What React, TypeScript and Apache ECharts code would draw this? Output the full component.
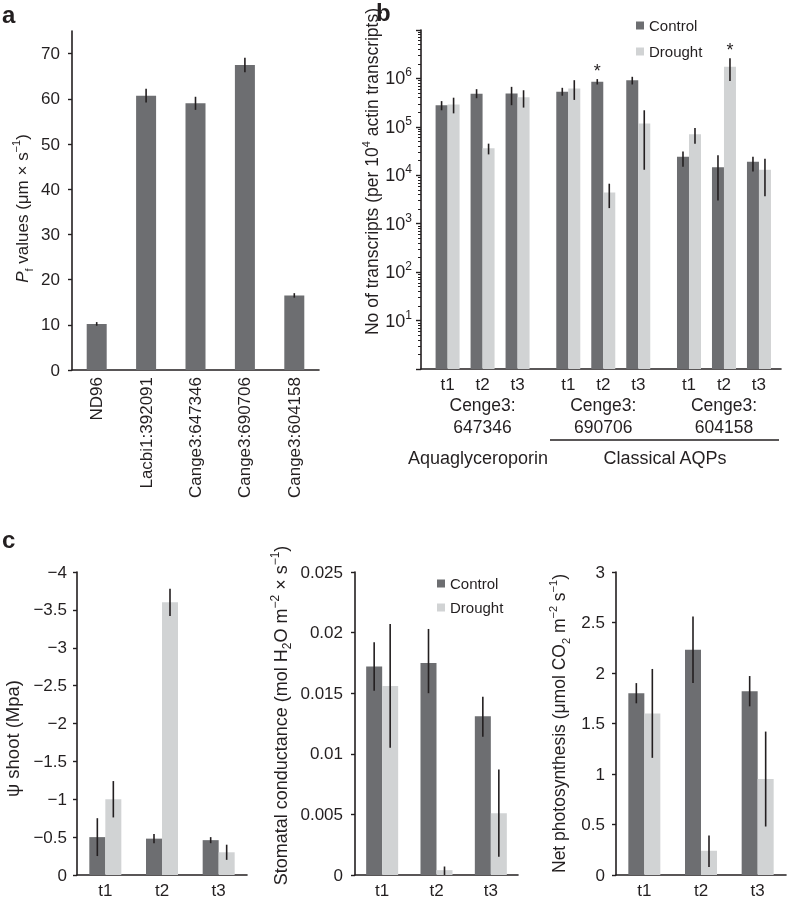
import React, { useEffect, useRef } from 'react';
import * as echarts from 'echarts';

// ---------- Panel a ----------
const aCats = ['ND96', 'Lacbi1:392091', 'Cange3:647346', 'Cange3:690706', 'Cange3:604158'];
const aValues = [10.2, 60.7, 59.0, 67.5, 16.5];
const aErrors = [0.4, 1.5, 1.45, 1.6, 0.5];
const aYTicks = [0, 10, 20, 30, 40, 50, 60, 70];

// ---------- Panel b ----------
const bTimes = ['t1', 't2', 't3', 't1', 't2', 't3', 't1', 't2', 't3'];
const bGroups = ['Cenge3:\n647346', 'Cenge3:\n690706', 'Cenge3:\n604158'];
const bControl = [2.8e5, 4.8e5, 4.9e5, 5.3e5, 8.5e5, 9.2e5, 2.4e4, 1.47e4, 1.9e4];
const bControlLow = [2.2e5, 3.9e5, 2.8e5, 4.4e5, 7.5e5, 7.5e5, 1.5e4, 3.0e3, 1.2e4];
const bControlHigh = [3.4e5, 6.0e5, 6.7e5, 6.4e5, 9.7e5, 1.08e6, 3.1e4, 2.6e4, 2.4e4];
const bDrought = [2.9e5, 3.6e4, 4.1e5, 6.2e5, 4.4e3, 1.17e5, 7.0e4, 1.74e6, 1.3e4];
const bDroughtLow = [1.9e5, 2.7e4, 2.5e5, 3.6e5, 2.1e3, 1.3e4, 4.5e4, 8.8e5, 3.7e3];
const bDroughtHigh = [4.0e5, 4.5e4, 5.7e5, 9.2e5, 6.7e3, 2.2e5, 9.5e4, 2.6e6, 2.2e4];
const bStarControl = [false, false, false, false, true, false, false, false, false];
const bStarDrought = [false, false, false, false, false, false, false, true, false];
const bYMin = 1;
const bYMax = 1e7;
const bFamilies = ['Aquaglyceroporin', 'Classical AQPs'];

// ---------- Panel c ----------
const cTimes = ['t1', 't2', 't3'];
const psiControl = [-0.5, -0.48, -0.46];
const psiControlErr = [0.25, 0.06, 0.04];
const psiDrought = [-1.0, -3.6, -0.3];
const psiDroughtErr = [0.24, 0.18, 0.1];

const gsControl = [0.0172, 0.0175, 0.0131];
const gsControlLow = [0.0152, 0.015, 0.0114];
const gsControlHigh = [0.0192, 0.0203, 0.0147];
const gsDrought = [0.0156, 0.0004, 0.0051];
const gsDroughtLow = [0.0105, 0.0, 0.0015];
const gsDroughtHigh = [0.0207, 0.0007, 0.0087];

const pnControl = [1.8, 2.23, 1.82];
const pnControlLow = [1.7, 1.9, 1.67];
const pnControlHigh = [1.9, 2.56, 1.97];
const pnDrought = [1.6, 0.24, 0.95];
const pnDroughtLow = [1.16, 0.08, 0.48];
const pnDroughtHigh = [2.04, 0.39, 1.42];

// ---------- styling ----------
const FONT = '"Liberation Sans", Arial, Helvetica, sans-serif';
const INK = '#231f20';
const DARK = '#6d6e71';
const LIGHT = '#d1d3d4';
const FS = 17;

const GROUP_STEP = 3.45;
const bPos = bTimes.map((_, i) => Math.floor(i / 3) * GROUP_STEP + (i % 3));
const bGroupPos = bGroups.map((_, g) => g * GROUP_STEP + 1);
const B_BAR_W = 12;

const axisLineStyle = { show: true, onZero: false, lineStyle: { color: INK, width: 1.6 } };

function nameStyle(padding: number[], fs: number) {
  const small = Math.round(fs * 0.65);
  return {
    fontSize: fs,
    lineHeight: 24,
    color: INK,
    fontFamily: FONT,
    padding,
    rich: {
      i: { fontStyle: 'italic', fontSize: fs, lineHeight: 24, fontFamily: FONT, color: INK },
      sub: { fontSize: small, lineHeight: small, verticalAlign: 'bottom', fontFamily: FONT, color: INK },
      sup: { fontSize: small, lineHeight: 16, verticalAlign: 'top', fontFamily: FONT, color: INK },
    },
  };
}

function errSeries(xAxisIndex: number, yAxisIndex: number, rows: number[][], offset: number) {
  return {
    type: 'custom',
    xAxisIndex,
    yAxisIndex,
    silent: true,
    z: 5,
    data: rows,
    encode: { x: 0, y: [1, 2] },
    renderItem: (_p: any, api: any) => {
      const x = api.value(0);
      const p1 = api.coord([x, api.value(1)]);
      const p2 = api.coord([x, api.value(2)]);
      return {
        type: 'line',
        shape: { x1: p1[0] + offset, y1: p1[1], x2: p2[0] + offset, y2: p2[1] },
        style: { stroke: INK, lineWidth: 1.6 },
      };
    },
  };
}

function bSeries(name: string, values: number[], lows: number[], highs: number[], stars: boolean[], color: string, side: number) {
  return {
    type: 'custom',
    name,
    xAxisIndex: 1,
    yAxisIndex: 1,
    itemStyle: { color },
    data: values.map((v, i) => [bPos[i], v, lows[i], highs[i], stars[i] ? 1 : 0]),
    encode: { x: 0, y: [1, 2, 3] },
    renderItem: (_p: any, api: any) => {
      const x = api.value(0);
      const top = api.coord([x, api.value(1)]);
      const base = api.coord([x, bYMin]);
      const lo = api.coord([x, api.value(2)]);
      const hi = api.coord([x, api.value(3)]);
      const left = side < 0 ? top[0] - B_BAR_W : top[0];
      const cx = left + B_BAR_W / 2;
      const children: any[] = [
        { type: 'rect', shape: { x: left, y: top[1], width: B_BAR_W, height: base[1] - top[1] }, style: { fill: color } },
        { type: 'line', shape: { x1: cx, y1: lo[1], x2: cx, y2: hi[1] }, style: { stroke: INK, lineWidth: 1.6 } },
      ];
      if (api.value(4)) {
        children.push({
          type: 'text',
          x: cx,
          y: hi[1] + 1,
          style: { text: '*', fill: INK, font: `18px ${FONT}`, align: 'center', verticalAlign: 'bottom' },
        });
      }
      return { type: 'group', children };
    },
  };
}

function cBars(xi: number, yi: number, control: number[], drought: number[]) {
  return [
    { type: 'bar', name: 'Control', xAxisIndex: xi, yAxisIndex: yi, data: control, barWidth: 16, barGap: '0%', itemStyle: { color: DARK } },
    { type: 'bar', name: 'Drought', xAxisIndex: xi, yAxisIndex: yi, data: drought, barWidth: 16, barGap: '0%', itemStyle: { color: LIGHT } },
  ];
}

function cX(gridIndex: number) {
  return {
    type: 'category',
    gridIndex,
    data: cTimes,
    axisLine: axisLineStyle,
    axisTick: { show: false },
    axisLabel: { fontSize: FS, color: INK, fontFamily: FONT, margin: 7 },
  };
}

const fmtNum = (v: number) => {
  const s = String(parseFloat(Math.abs(v).toFixed(4)));
  return v < 0 ? '\u2212' + s : s;
};

const gridBase = { outerBoundsMode: 'none', containLabel: false };

const option: any = {
  animation: false,
  textStyle: { fontFamily: FONT, color: INK },
  grid: [
    { ...gridBase, left: 72, top: 31, width: 247, height: 339 },
    { ...gridBase, left: 421, top: 30, width: 360, height: 339 },
    { ...gridBase, left: 77, top: 572, width: 170, height: 303 },
    { ...gridBase, left: 355, top: 572, width: 163, height: 303 },
    { ...gridBase, left: 616, top: 572, width: 170, height: 303 },
  ],
  xAxis: [
    {
      type: 'category',
      gridIndex: 0,
      data: aCats,
      axisLine: axisLineStyle,
      axisTick: { show: false },
      axisLabel: { rotate: 90, fontSize: FS, color: INK, fontFamily: FONT, margin: 7 },
    },
    {
      type: 'value',
      gridIndex: 1,
      min: -0.76,
      max: 9.53,
      axisLine: axisLineStyle,
      axisTick: { show: false },
      splitLine: { show: false },
      axisLabel: {
        customValues: bPos,
        fontSize: FS,
        color: INK,
        fontFamily: FONT,
        margin: 7,
        formatter: (v: number) => {
          const i = bPos.findIndex((p) => Math.abs(p - v) < 1e-6);
          return i >= 0 ? bTimes[i] : '';
        },
      },
    },
    {
      type: 'value',
      gridIndex: 1,
      position: 'bottom',
      min: -0.76,
      max: 9.53,
      axisLine: { show: false },
      axisTick: { show: false },
      splitLine: { show: false },
      axisLabel: {
        customValues: bGroupPos,
        fontSize: 17.5,
        lineHeight: 22,
        color: INK,
        fontFamily: FONT,
        margin: 25,
        formatter: (v: number) => {
          const i = bGroupPos.findIndex((p) => Math.abs(p - v) < 1e-6);
          return i >= 0 ? bGroups[i] : '';
        },
      },
    },
    cX(2),
    cX(3),
    cX(4),
  ],
  yAxis: [
    {
      type: 'value',
      gridIndex: 0,
      min: 0,
      max: 75,
      interval: 10,
      axisLine: axisLineStyle,
      axisTick: { show: true, length: 4, customValues: aYTicks, lineStyle: { color: INK, width: 1.4 } },
      splitLine: { show: false },
      axisLabel: { customValues: aYTicks, fontSize: FS, color: INK, fontFamily: FONT, margin: 12 },
      name: '{i|P}{sub|f} values (μm × s{sup|−1})',
      nameLocation: 'middle',
      nameRotate: 90,
      nameGap: 38,
      nameMoveOverlap: false,
      nameTextStyle: nameStyle([0, 16, 0, 0], 17),
    },
    {
      type: 'log',
      gridIndex: 1,
      logBase: 10,
      min: bYMin,
      max: bYMax,
      splitNumber: 7,
      axisLine: axisLineStyle,
      axisTick: { show: true, length: 5, lineStyle: { color: INK, width: 1.4 } },
      minorTick: { show: true, splitNumber: 9, length: 3, lineStyle: { color: INK, width: 1 } },
      splitLine: { show: false },
      axisLabel: {
        fontSize: FS,
        color: INK,
        fontFamily: FONT,
        margin: 9,
        formatter: (v: number) => {
          const e = Math.round(Math.log10(v));
          return e >= 1 && e <= 6 ? `{n|10}{s|${e}}` : '';
        },
        rich: {
          n: { fontSize: 18, lineHeight: 24, fontFamily: FONT, color: INK },
          s: { fontSize: 12, lineHeight: 16, verticalAlign: 'top', fontFamily: FONT, color: INK },
        },
      },
      name: 'No of transcripts (per 10{sup|4} actin transcripts)',
      nameLocation: 'middle',
      nameRotate: 90,
      nameGap: 37,
      nameMoveOverlap: false,
      nameTextStyle: nameStyle([0, 0, 0, 56], 17.5),
    },
    {
      type: 'value',
      gridIndex: 2,
      min: -4,
      max: 0,
      interval: 0.5,
      inverse: true,
      axisLine: axisLineStyle,
      axisTick: { show: true, length: 4, lineStyle: { color: INK, width: 1.4 } },
      splitLine: { show: false },
      axisLabel: { fontSize: FS, color: INK, fontFamily: FONT, margin: 10, formatter: fmtNum },
      name: 'ψ shoot (Mpa)',
      nameLocation: 'middle',
      nameRotate: 90,
      nameGap: 53,
      nameMoveOverlap: false,
      nameTextStyle: nameStyle([0, 30, 0, 0], 18.5),
    },
    {
      type: 'value',
      gridIndex: 3,
      min: 0,
      max: 0.025,
      interval: 0.005,
      axisLine: axisLineStyle,
      axisTick: { show: true, length: 4, lineStyle: { color: INK, width: 1.4 } },
      splitLine: { show: false },
      axisLabel: { fontSize: FS, color: INK, fontFamily: FONT, margin: 12, formatter: fmtNum },
      name: 'Stomatal conductance (mol H{sub|2}O m{sup|−2} × s{sup|−1})',
      nameLocation: 'middle',
      nameRotate: 90,
      nameGap: 62,
      nameMoveOverlap: false,
      nameTextStyle: nameStyle([0, 0, 0, 16], 18),
    },
    {
      type: 'value',
      gridIndex: 4,
      min: 0,
      max: 3,
      interval: 0.5,
      axisLine: axisLineStyle,
      axisTick: { show: true, length: 4, lineStyle: { color: INK, width: 1.4 } },
      splitLine: { show: false },
      axisLabel: { fontSize: FS, color: INK, fontFamily: FONT, margin: 11, formatter: fmtNum },
      name: 'Net photosynthesis (μmol CO{sub|2} m{sup|−2} s{sup|−1})',
      nameLocation: 'middle',
      nameRotate: 90,
      nameGap: 45,
      nameMoveOverlap: false,
      nameTextStyle: nameStyle([0, 0, 0, 0], 17.5),
    },
  ],
  legend: [
    {
      data: ['Control', 'Drought'],
      orient: 'vertical',
      left: 636,
      top: 18,
      padding: 0,
      itemWidth: 8,
      itemHeight: 8,
      itemGap: 11,
      icon: 'rect',
      selectedMode: false,
      textStyle: { fontSize: 15, color: INK, fontFamily: FONT },
    },
    {
      data: ['Control', 'Drought'],
      orient: 'vertical',
      left: 437,
      top: 576,
      padding: 0,
      itemWidth: 8,
      itemHeight: 8,
      itemGap: 9,
      icon: 'rect',
      selectedMode: false,
      textStyle: { fontSize: 15, color: INK, fontFamily: FONT },
    },
  ],
  graphic: [
    { type: 'text', left: 2, top: 2, style: { text: 'a', font: `bold 24px ${FONT}`, fill: INK } },
    { type: 'text', left: 376, top: 0, style: { text: 'b', font: `bold 24px ${FONT}`, fill: INK } },
    { type: 'text', left: 2, top: 527, style: { text: 'c', font: `bold 24px ${FONT}`, fill: INK } },
    { type: 'line', shape: { x1: 550, y1: 440, x2: 779, y2: 440 }, style: { stroke: INK, lineWidth: 1.5 } },
    { type: 'text', x: 478, y: 458, style: { text: bFamilies[0], font: `18px ${FONT}`, fill: INK, align: 'center', verticalAlign: 'middle' } },
    { type: 'text', x: 665, y: 458, style: { text: bFamilies[1], font: `18px ${FONT}`, fill: INK, align: 'center', verticalAlign: 'middle' } },
  ],
  series: [
    { type: 'bar', name: 'Pf', xAxisIndex: 0, yAxisIndex: 0, data: aValues, barWidth: 20, itemStyle: { color: DARK } },
    errSeries(0, 0, aValues.map((v, i) => [i, v - aErrors[i], v + aErrors[i]]), 0),

    bSeries('Control', bControl, bControlLow, bControlHigh, bStarControl, DARK, -1),
    bSeries('Drought', bDrought, bDroughtLow, bDroughtHigh, bStarDrought, LIGHT, 1),

    ...cBars(3, 2, psiControl, psiDrought),
    errSeries(3, 2, psiControl.map((v, i) => [i, v - psiControlErr[i], v + psiControlErr[i]]), -8),
    errSeries(3, 2, psiDrought.map((v, i) => [i, v - psiDroughtErr[i], v + psiDroughtErr[i]]), 8),

    ...cBars(4, 3, gsControl, gsDrought),
    errSeries(4, 3, gsControl.map((_, i) => [i, gsControlLow[i], gsControlHigh[i]]), -8),
    errSeries(4, 3, gsDrought.map((_, i) => [i, gsDroughtLow[i], gsDroughtHigh[i]]), 8),

    ...cBars(5, 4, pnControl, pnDrought),
    errSeries(5, 4, pnControl.map((_, i) => [i, pnControlLow[i], pnControlHigh[i]]), -8),
    errSeries(5, 4, pnDrought.map((_, i) => [i, pnDroughtLow[i], pnDroughtHigh[i]]), 8),
  ],
};

export default function App() {
  const ref = useRef<HTMLDivElement>(null);
  useEffect(() => {
    const chart = echarts.init(ref.current!, null, { renderer: 'svg' });
    chart.setOption(option);
    return () => chart.dispose();
  }, []);
  return <div ref={ref} style={{ position: 'fixed', left: 0, top: 0, width: 788, height: 899 }} />;
}
